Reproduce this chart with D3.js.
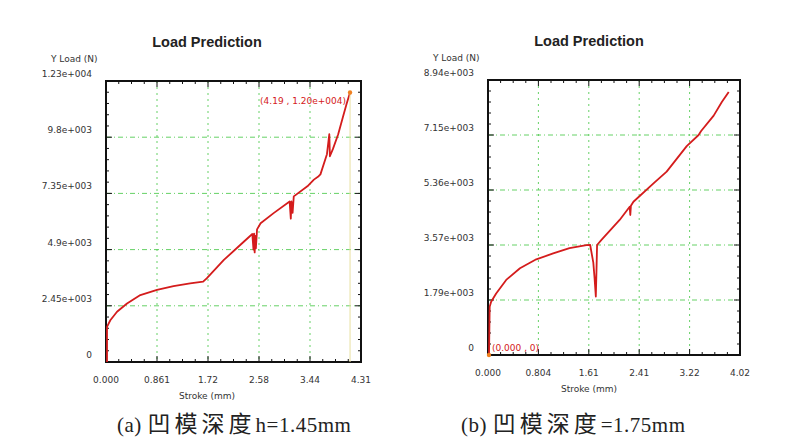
<!DOCTYPE html>
<html>
<head>
<meta charset="utf-8">
<title>Load Prediction</title>
<script src="https://d3js.org/d3.v7.min.js"></script>
<style>
  body { margin: 0; background: #fff; }
  .title { font: bold 14.5px "Liberation Sans", Arial, sans-serif; fill: #222; }
  .lab { font: 9px "DejaVu Sans", sans-serif; fill: #333; }
  .caption { font: 21px "Liberation Serif", "Noto Sans CJK SC", serif; fill: #222; letter-spacing: 0.5px; }
  .caption .cjk { font-family: "Noto Sans CJK SC", sans-serif; font-size: 23px; letter-spacing: 4px; }
</style>
</head>
<body>
<svg width="800" height="440"></svg>
<script>

// (a) die depth h = 1.45 mm
var strokeA = [0.017, 0.017, 0.073, 0.186, 0.355, 0.58, 0.861, 1.14, 1.42, 1.64, 1.70, 1.99, 2.27, 2.47, 2.49, 2.50, 2.51, 2.52, 2.53, 2.55, 2.61, 2.83, 3.10, 3.12, 3.13, 3.15, 3.17, 3.40, 3.51, 3.59, 3.62, 3.73, 3.77, 3.78, 3.83, 3.92, 4.00, 4.06, 4.12];
var loadA   = [0, 1530, 1820, 2190, 2550, 2920, 3140, 3310, 3430, 3500, 3650, 4450, 5110, 5580, 4900, 5600, 4780, 5500, 4950, 5780, 6050, 6490, 7000, 6250, 7000, 6500, 7220, 7660, 7950, 8100, 8180, 9060, 9930, 8970, 9280, 9930, 10680, 11240, 11750];
var xTickValsA = [0, 0.861, 1.722, 2.583, 3.444, 4.305];
var xTickLabA  = ["0.000", "0.861", "1.72", "2.58", "3.44", "4.31"];
var yTickValsA = [0, 2450, 4900, 7350, 9800, 12250];
var yTickLabA  = ["0", "2.45e+003", "4.9e+003", "7.35e+003", "9.8e+003", "1.23e+004"];

// (b) die depth = 1.75 mm
var strokeB = [0.016, 0.027, 0.05, 0.13, 0.29, 0.51, 0.77, 1.04, 1.30, 1.57, 1.63, 1.68, 1.70, 1.72, 1.73, 1.74, 1.81, 2.10, 2.26, 2.27, 2.28, 2.32, 2.64, 2.85, 3.17, 3.36, 3.40, 3.60, 3.73, 3.84];
var loadB   = [0, 1570, 1730, 2000, 2440, 2820, 3110, 3300, 3470, 3570, 3575, 3000, 2500, 1900, 2700, 3575, 3740, 4390, 4820, 4550, 4850, 4980, 5580, 5960, 6790, 7150, 7280, 7780, 8220, 8550];
var xTickValsB = [0, 0.804, 1.608, 2.412, 3.216, 4.02];
var xTickLabB  = ["0.000", "0.804", "1.61", "2.41", "3.22", "4.02"];
var yTickValsB = [0, 1787.5, 3575, 5362.5, 7150, 8937.5];
var yTickLabB  = ["0", "1.79e+003", "3.57e+003", "5.36e+003", "7.15e+003", "8.94e+003"];

var svg = d3.select("svg");

function panel(cfg) {
  var x = d3.scaleLinear().domain([0, cfg.xTicks[cfg.xTicks.length - 1]]).range([cfg.x0, cfg.x1]);
  var y = d3.scaleLinear().domain([0, cfg.yTicks[cfg.yTicks.length - 1]]).range([cfg.y1, cfg.y0]);
  var g = svg.append("g");
  var cx = cfg.x0 + 101;

  g.append("text").attr("class", "title").attr("x", cx).attr("y", cfg.y0 - 34)
    .attr("text-anchor", "middle").text("Load Prediction");
  g.append("text").attr("class", "lab").attr("x", cfg.x0 - 55).attr("y", cfg.y0 - 19)
    .text(cfg.yName);

  // grid
  g.selectAll(".vg").data(cfg.xTicks.slice(1, -1)).enter().append("line")
    .attr("x1", x).attr("x2", x).attr("y1", cfg.y0).attr("y2", cfg.y1)
    .attr("stroke", "#5c5").attr("stroke-width", 0.9).attr("stroke-dasharray", "2,4");
  g.selectAll(".hg").data(cfg.yTicks.slice(1, -1)).enter().append("line")
    .attr("y1", y).attr("y2", y).attr("x1", cfg.x0).attr("x2", cfg.x1)
    .attr("stroke", "#5c5").attr("stroke-width", 0.9).attr("stroke-dasharray", "5,3,1,3");

  // minor ticks inside the frame
  var xStep = (cfg.xTicks[1] - cfg.xTicks[0]) / 4;
  var xMinor = d3.range(0, x.domain()[1] + xStep / 2, xStep);
  var yStep = (cfg.yTicks[1] - cfg.yTicks[0]) / 5;
  var yMinor = d3.range(0, y.domain()[1] + yStep / 2, yStep);
  var tk = g.append("g").attr("stroke", "#111").attr("stroke-width", 1);
  [cfg.y0, cfg.y1].forEach(function(yy, k) {
    tk.selectAll(null).data(xMinor).enter().append("line")
      .attr("x1", x).attr("x2", x).attr("y1", yy)
      .attr("y2", function(d, i) { var l = (i % 4 === 0) ? 6 : 3; return k === 0 ? yy + l : yy - l; });
  });
  [cfg.x0, cfg.x1].forEach(function(xx, k) {
    tk.selectAll(null).data(yMinor).enter().append("line")
      .attr("y1", y).attr("y2", y).attr("x1", xx)
      .attr("x2", function(d, i) { var l = (i % 5 === 0) ? 6 : 3; return k === 0 ? xx + l : xx - l; });
  });

  // frame
  g.append("rect").attr("x", cfg.x0).attr("y", cfg.y0)
    .attr("width", cfg.x1 - cfg.x0).attr("height", cfg.y1 - cfg.y0)
    .attr("fill", "none").attr("stroke", "#111").attr("stroke-width", 2);

  // tick labels
  g.selectAll(".xl").data(cfg.xTicks).enter().append("text").attr("class", "lab")
    .attr("x", x).attr("y", cfg.y1 + 21).attr("text-anchor", "middle")
    .text(function(d, i) { return cfg.xLabels[i]; });
  g.selectAll(".yl").data(cfg.yTicks).enter().append("text").attr("class", "lab")
    .attr("x", cfg.x0 - 14).attr("y", function(d) { return y(d) - 4; }).attr("text-anchor", "end")
    .text(function(d, i) { return cfg.yLabels[i]; });
  g.append("text").attr("class", "lab").attr("x", cx).attr("y", cfg.y1 + 37)
    .attr("text-anchor", "middle").text("Stroke (mm)");

  // curve
  var pts = cfg.xs.map(function(v, i) { return [v, cfg.ys[i]]; });
  var line = d3.line().x(function(d) { return x(d[0]); }).y(function(d) { return y(d[1]); });
  g.append("path").datum(pts).attr("d", line)
    .attr("fill", "none").attr("stroke", "#d41c1c").attr("stroke-width", 1.8)
    .attr("stroke-linejoin", "round");

  // marker
  var m = cfg.marker;
  var mp = pts[m.index];
  if (m.guide) {
    g.append("line").attr("x1", x(mp[0])).attr("x2", x(mp[0]))
      .attr("y1", y(mp[1])).attr("y2", cfg.y1)
      .attr("stroke", "#e8e0a0").attr("stroke-width", 1);
  }
  g.append("circle").attr("cx", x(mp[0])).attr("cy", y(mp[1])).attr("r", 2.2).attr("fill", "#f08020");
  g.append("text").attr("class", "lab").style("fill", "#d42020")
    .attr("x", x(mp[0]) + m.dx).attr("y", y(mp[1]) + m.dy).attr("text-anchor", m.anchor)
    .text(m.text);

  g.append("text").attr("class", "caption").attr("x", cfg.capX).attr("y", 432)
    .call(function(t) {
      t.append("tspan").text(cfg.caption[0]);
      t.append("tspan").attr("class", "cjk").text(cfg.caption[1]);
      t.append("tspan").text(cfg.caption[2]);
    });
}

panel({
  x0: 106, x1: 361, y0: 81, y1: 362,
  xTicks: xTickValsA, xLabels: xTickLabA, yTicks: yTickValsA, yLabels: yTickLabA,
  xs: strokeA, ys: loadA, yName: "Y Load (N)",
  marker: { index: strokeA.length - 1, text: "(4.19 , 1.20e+004)", dx: -4, dy: 12, anchor: "end", guide: true },
  caption: ["(a) ", "凹模深度", "h=1.45mm"], capX: 117
});

panel({
  x0: 488, x1: 740, y0: 80, y1: 355,
  xTicks: xTickValsB, xLabels: xTickLabB, yTicks: yTickValsB, yLabels: yTickLabB,
  xs: strokeB, ys: loadB, yName: "Y Load (N)",
  marker: { index: 0, text: "(0.000 , 0)", dx: 3, dy: -4, anchor: "start", guide: false },
  caption: ["(b) ", "凹模深度", "=1.75mm"], capX: 461
});

</script>
</body>
</html>
